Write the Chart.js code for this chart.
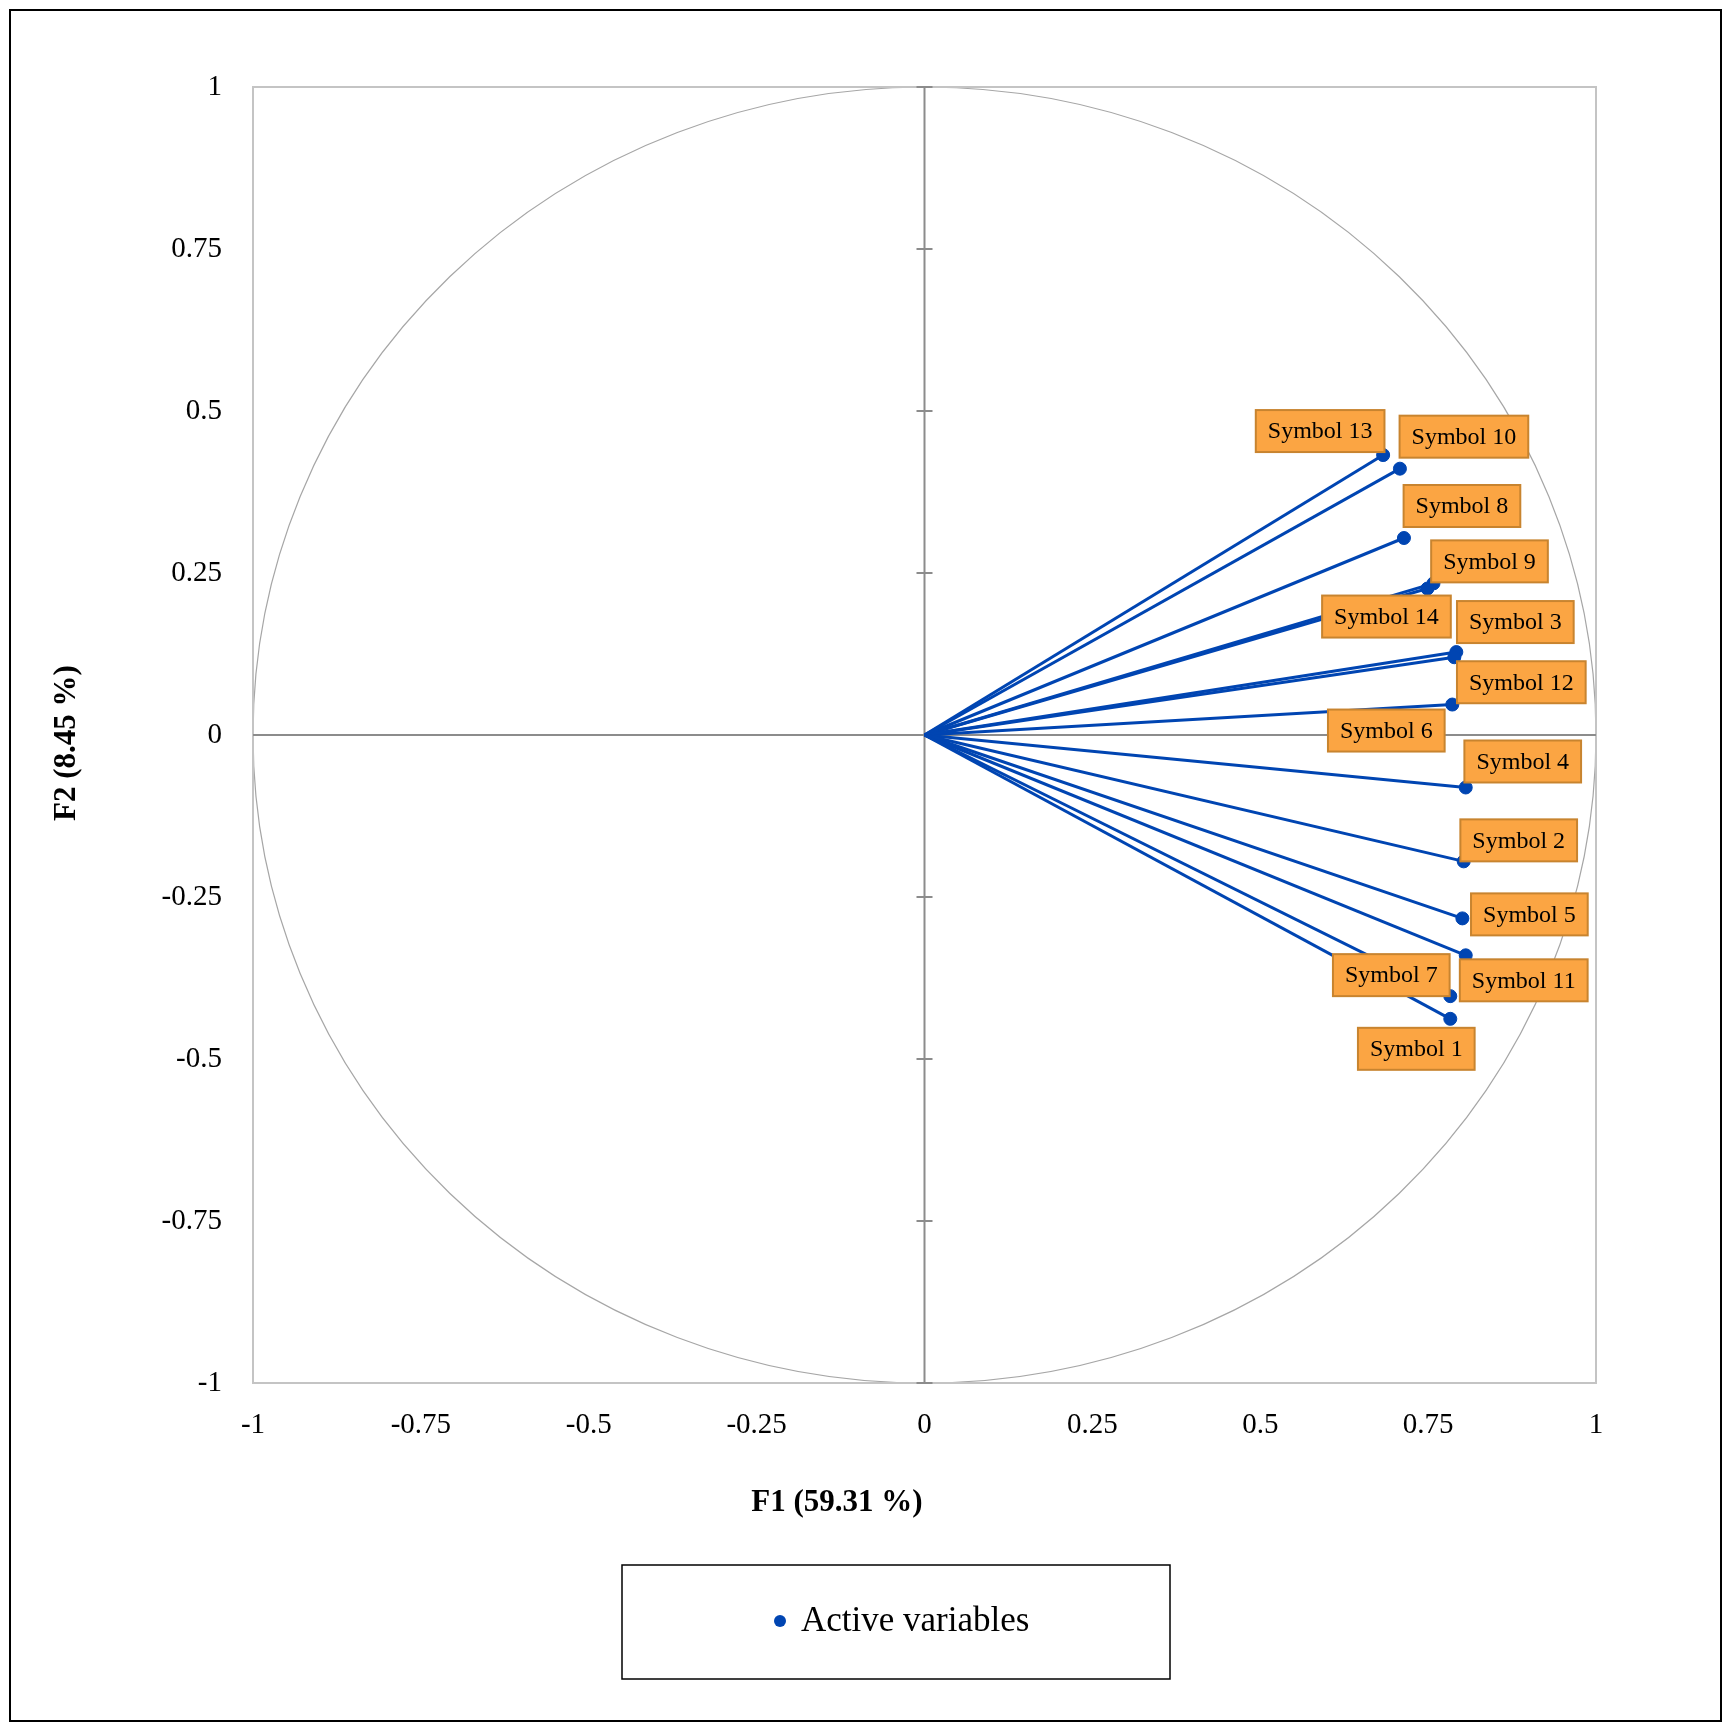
<!DOCTYPE html>
<html>
<head>
<meta charset="utf-8">
<script src="https://cdn.jsdelivr.net/npm/chart.js@4.4.0/dist/chart.umd.min.js"></script>
<style>
  body { margin: 0; background: #fff; }
</style>
</head>
<body>
<canvas id="myChart" width="1732" height="1731"></canvas>
<script>
// variable names and loadings on F1 / F2
const names = ['Symbol 1', 'Symbol 2', 'Symbol 3', 'Symbol 4', 'Symbol 5', 'Symbol 6', 'Symbol 7',
  'Symbol 8', 'Symbol 9', 'Symbol 10', 'Symbol 11', 'Symbol 12', 'Symbol 13', 'Symbol 14']
const f1 = [0.783, 0.803, 0.792, 0.806, 0.801, 0.786, 0.783, 0.714, 0.758, 0.708, 0.806, 0.789, 0.683, 0.749]
const f2 = [-0.438, -0.195, 0.128, -0.081, -0.283, 0.047, -0.403, 0.304, 0.234, 0.411, -0.340, 0.120, 0.432, 0.226]
const tickValues = [-1, -0.75, -0.5, -0.25, 0, 0.25, 0.5, 0.75, 1]

const xTitle = 'F1 (59.31 %)'
const yTitle = 'F2 (8.45 %)'
const legendLabel = 'Active variables'

// where each label box sits relative to its point (pixels)
const labelOffsets = [[-34, 30], [55, -21], [59, -30], [57, -26], [67, -4], [-66, 26], [-59, -21],
  [58, -32], [56, -22], [64, -32], [58, 25], [67, 25], [-63, -24], [-41, 28]]

const blue = '#0045b2'
const serif = "'Palatino Linotype', 'Book Antiqua', Palatino, 'Liberation Serif', serif"

const decorations = {
  id: 'decorations',
  beforeDraw(chart) {
    const c = chart.ctx
    c.save()
    c.fillStyle = '#fff'
    c.fillRect(0, 0, chart.width, chart.height)
    c.strokeStyle = '#000'
    c.lineWidth = 2
    c.strokeRect(10, 10, 1711, 1711)
    c.restore()
  },
  beforeDatasetsDraw(chart) {
    const c = chart.ctx
    const x = chart.scales.x
    const y = chart.scales.y
    const a = chart.chartArea
    c.save()
    // correlation circle
    c.strokeStyle = '#a6a6a6'
    c.lineWidth = 1.2
    c.beginPath()
    c.ellipse(x.getPixelForValue(0), y.getPixelForValue(0),
      x.getPixelForValue(1) - x.getPixelForValue(0),
      y.getPixelForValue(0) - y.getPixelForValue(1), 0, 0, Math.PI * 2)
    c.stroke()
    // frame
    c.strokeStyle = '#c4c4c4'
    c.lineWidth = 2
    c.strokeRect(a.left, a.top, a.right - a.left, a.bottom - a.top)
    // zero axes with ticks on the vertical one
    c.strokeStyle = '#8c8c8c'
    c.lineWidth = 2
    c.beginPath()
    c.moveTo(a.left, y.getPixelForValue(0))
    c.lineTo(a.right, y.getPixelForValue(0))
    c.moveTo(x.getPixelForValue(0), a.top)
    c.lineTo(x.getPixelForValue(0), a.bottom)
    tickValues.forEach(v => {
      const py = y.getPixelForValue(v)
      c.moveTo(x.getPixelForValue(0) - 8, py)
      c.lineTo(x.getPixelForValue(0) + 8, py)
    })
    c.stroke()
    c.restore()
  },
  afterDatasetsDraw(chart) {
    const c = chart.ctx
    const x = chart.scales.x
    const y = chart.scales.y
    c.save()
    // point labels
    c.font = '24px ' + serif
    c.textAlign = 'center'
    c.textBaseline = 'middle'
    names.forEach((n, i) => {
      const cx = x.getPixelForValue(f1[i]) + labelOffsets[i][0]
      const cy = y.getPixelForValue(f2[i]) + labelOffsets[i][1]
      const w = c.measureText(n).width + 24
      const h = 42
      c.fillStyle = '#fba543'
      c.fillRect(cx - w / 2, cy - h / 2, w, h)
      c.strokeStyle = '#c8842f'
      c.lineWidth = 2
      c.strokeRect(cx - w / 2, cy - h / 2, w, h)
      c.fillStyle = '#000'
      c.fillText(n, cx, cy + 1)
    })
    // axis titles
    c.font = 'bold 31px ' + serif
    c.fillText(xTitle, 837, 1503)
    c.save()
    c.translate(67, 743)
    c.rotate(-Math.PI / 2)
    c.fillText(yTitle, 0, 0)
    c.restore()
    // legend
    c.strokeStyle = '#000'
    c.lineWidth = 1.5
    c.strokeRect(622, 1565, 548, 114)
    c.fillStyle = blue
    c.beginPath()
    c.arc(780, 1621, 6, 0, Math.PI * 2)
    c.fill()
    c.fillStyle = '#000'
    c.font = '35px ' + serif
    c.textAlign = 'left'
    c.fillText(legendLabel, 801, 1622)
    c.restore()
  }
}

const vectorSets = names.map((n, i) => ({
  type: 'line',
  label: n,
  data: [{ x: 0, y: 0 }, { x: f1[i], y: f2[i] }],
  borderColor: blue,
  borderWidth: 3,
  pointRadius: 0,
  fill: false
}))

const printChart = () => {
  const ctx = document.getElementById('myChart').getContext('2d')
  const tickOpts = {
    color: '#000',
    font: { family: serif, size: 29 },
    autoSkip: false,
    maxRotation: 0,
    callback: v => String(v)
  }
  new Chart(ctx, {
    type: 'scatter',
    data: {
      datasets: [
        {
          label: legendLabel,
          data: f1.map((v, i) => ({ x: v, y: f2[i] })),
          backgroundColor: blue,
          borderColor: blue,
          pointRadius: 6.5,
          pointHoverRadius: 6.5
        },
        ...vectorSets
      ]
    },
    options: {
      responsive: false,
      animation: false,
      layout: { padding: { left: 123, right: 136, top: 87, bottom: 288 } },
      plugins: { legend: { display: false }, tooltip: { enabled: false } },
      scales: {
        x: {
          type: 'linear',
          min: -1,
          max: 1,
          afterBuildTicks: s => { s.ticks = tickValues.map(v => ({ value: v })) },
          afterFit: s => { s.height = 60 },
          grid: { display: false, drawTicks: false },
          border: { display: false },
          ticks: { ...tickOpts, padding: 25 }
        },
        y: {
          type: 'linear',
          min: -1,
          max: 1,
          afterBuildTicks: s => { s.ticks = tickValues.map(v => ({ value: v })) },
          afterFit: s => { s.width = 130 },
          grid: { display: false, drawTicks: false },
          border: { display: false },
          ticks: { ...tickOpts, padding: 31 }
        }
      }
    },
    plugins: [decorations]
  })
}

printChart()
</script>
</body>
</html>
